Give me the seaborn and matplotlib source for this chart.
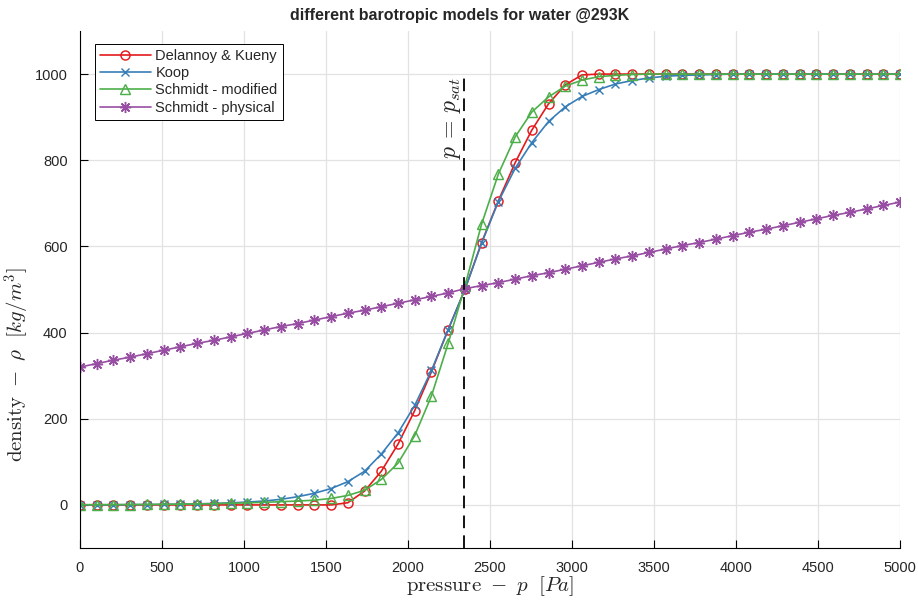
import matplotlib
matplotlib.use("Agg")
import matplotlib.pyplot as plt
import seaborn as sns
import numpy as np

# ---- data ----
pressure = [0, 102, 204, 306, 408, 510, 612, 714, 816, 918,
            1020, 1122, 1224, 1327, 1429, 1531, 1633, 1735, 1837, 1939,
            2041, 2143, 2245, 2347, 2449, 2551, 2653, 2755, 2857, 2959,
            3061, 3163, 3265, 3367, 3469, 3571, 3673, 3776, 3878, 3980,
            4082, 4184, 4286, 4388, 4490, 4592, 4694, 4796, 4898, 5000]

delannoy = [0, 0, 0, 0, 0, 0, 0, 0, 0, 0,
            0, 0, 0, 0, 0, 0, 5, 32, 78, 141,
            219, 309, 407, 500, 609, 706, 794, 870, 931, 975,
            998, 1000, 1000, 1000, 1000, 1000, 1000, 1000, 1000, 1000,
            1000, 1000, 1000, 1000, 1000, 1000, 1000, 1000, 1000, 1000]

koop = [0.2, 0.3, 0.4, 0.6, 0.9, 1.2, 1.7, 2.4, 3.4, 4.8,
        6.6, 9, 13, 19, 27, 38, 54, 78, 118, 167,
        231, 312, 407, 500, 608, 704, 781, 841, 890, 924,
        948, 964, 977, 985, 991, 995, 997, 998, 999, 1000,
        1000, 1000, 1000, 1000, 1000, 1000, 1000, 1000, 1000, 1000]

schmidt_mod = [0.5, 0.6, 0.7, 0.9, 1.1, 1.4, 1.8, 2.3, 3, 3.8,
               4.8, 6, 7.5, 9, 11, 15, 22, 34, 59, 97,
               161, 253, 375, 508, 652, 768, 854, 912, 947, 972,
               986, 994, 997, 999, 1000, 1000, 1000, 1000, 1000, 1000,
               1000, 1000, 1000, 1000, 1000, 1000, 1000, 1000, 1000, 1000]

schmidt_phys = [320, 328, 336, 343, 351, 359, 367, 375, 382, 390,
                398, 406, 414, 421, 429, 437, 445, 452, 460, 468,
                476, 484, 492, 502, 509, 516, 524, 532, 539, 547,
                555, 563, 571, 578, 586, 594, 602, 609, 617, 625,
                633, 640, 648, 656, 664, 672, 679, 687, 695, 703]

labels = ["Delannoy & Kueny", "Koop", "Schmidt - modified", "Schmidt - physical"]
p_sat = 2339
rho_liquid = 1000
x_ticks = [0, 500, 1000, 1500, 2000, 2500, 3000, 3500, 4000, 4500, 5000]
y_ticks = [0, 200, 400, 600, 800, 1000]

# ---- style ----
sns.set_style("white")
plt.rcParams["font.family"] = ["Liberation Sans", "DejaVu Sans"]
plt.rcParams["mathtext.fontset"] = "cm"

pal = sns.color_palette("Set1")
colors = [pal[0], pal[1], pal[2], pal[3]]
markers = ["o", "x", "^", (8, 2, 0)]
msizes = [6.5, 6, 6.8, 8]
series = [delannoy, koop, schmidt_mod, schmidt_phys]

fig = plt.figure(figsize=(9.18, 6.0), dpi=100)
ax = fig.add_axes([80/918, 52/600, 820/918, 517/600])

for vals, c, m, ms, lab in zip(series, colors, markers, msizes, labels):
    sns.lineplot(x=pressure, y=vals, ax=ax, color=c, marker=m,
                 markersize=ms,
                 markerfacecolor="none", markeredgecolor=c,
                 markeredgewidth=1.05, linewidth=1.2, label=lab,
                 estimator=None, sort=False)

ax.vlines(p_sat, -100, rho_liquid, colors="black", linestyles=(0, (7, 4)),
          linewidth=1.3, zorder=5)
ax.text(p_sat - 5, rho_liquid - 8, r"$p\, =\, p_{sat}$", rotation=90,
        ha="right", va="top", fontsize=17)

ax.set_xlim(0, 5000)
ax.set_ylim(-100, 1100)
ax.set_xticks(x_ticks)
ax.set_yticks(y_ticks)
ax.tick_params(direction="in", length=6, width=0.8, colors="black",
               labelcolor="#262626", labelsize=10.5, pad=9,
               top=False, right=False, bottom=True, left=True)
ax.grid(True, color="#e2e2e2", linewidth=0.9)
ax.set_axisbelow(True)
for s in ["top", "right"]:
    ax.spines[s].set_visible(False)
for s in ["left", "bottom"]:
    ax.spines[s].set_color("black")
    ax.spines[s].set_linewidth(0.8)

ax.set_xlabel(r"$\mathrm{pressure}\ -\ p\ \ [Pa]$", fontsize=15, labelpad=0,
              color="#262626")
ax.set_ylabel(r"$\mathrm{density}\ -\ \rho\ \ [kg/m^3]$", fontsize=15,
              color="#262626")
ax.yaxis.set_label_coords(-0.058, 0.354)
ax.set_title("different barotropic models for water @293K", fontsize=11.5,
             fontweight="bold", pad=8, x=0.463)

leg = ax.legend(loc="upper left", bbox_to_anchor=(0.018, 0.975), fontsize=10.5,
                frameon=True, fancybox=False, framealpha=1, edgecolor="black",
                handlelength=3.5, labelspacing=0.22, borderpad=0.35,
                handletextpad=0.3, borderaxespad=0)
leg.get_frame().set_linewidth(0.7)

fig.savefig("out.png", dpi=100)
